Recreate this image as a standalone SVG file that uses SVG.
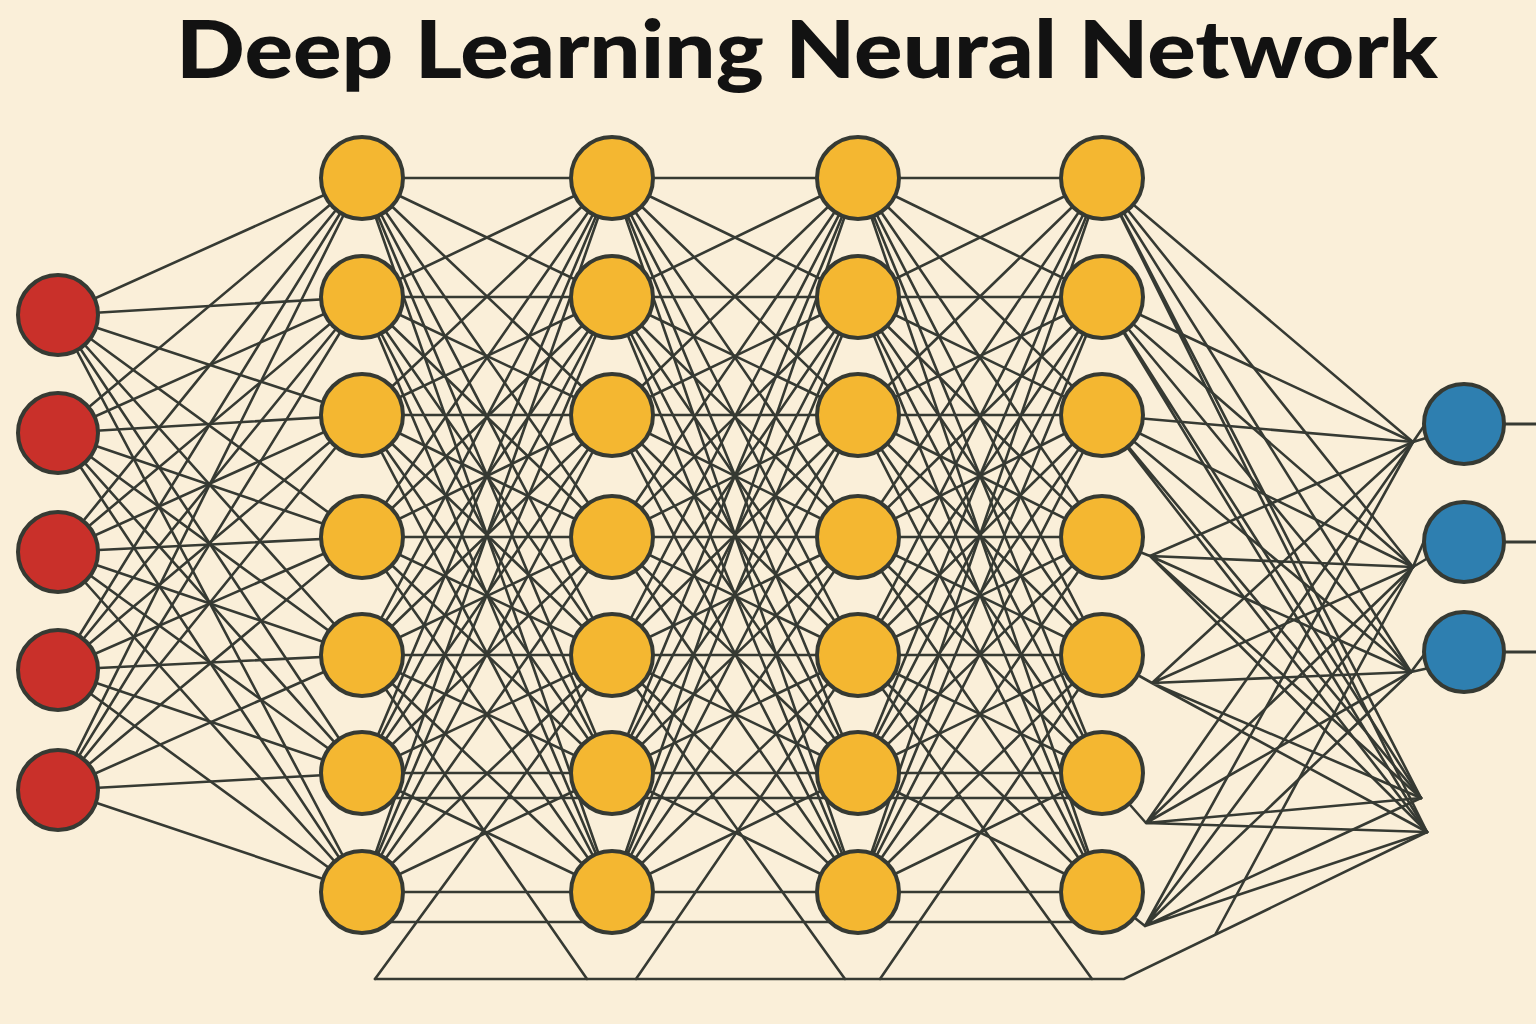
<svg xmlns="http://www.w3.org/2000/svg" width="1536" height="1024" viewBox="0 0 1536 1024">
<style>
.bg{fill:#FAEFD9}
.title{font-family:"Lato","Liberation Sans",sans-serif;font-weight:900;font-size:80px;fill:#121212}
.c path{fill:none;stroke:#363A33;stroke-width:2.6;stroke-linecap:round}
.n circle{stroke:#363A33;stroke-width:4}
.in{fill:#C9302A}
.hid{fill:#F4B731}
.out{fill:#2E7FB0}
.o{stroke:#363A33;stroke-width:3}
</style>
<rect class="bg" x="0" y="0" width="1536" height="1024"/>
<text class="title" x="807" y="78" text-anchor="middle" textLength="1262" lengthAdjust="spacingAndGlyphs">Deep Learning Neural Network</text>
<g id="connectors" class="c">
<path d="M58 315L362 178M58 315L362 297M58 315L362 415M58 315L362 537M58 315L362 655M58 315L362 773M58 315L362 892"/>
<path d="M58 433L362 178M58 433L362 297M58 433L362 415M58 433L362 537M58 433L362 655M58 433L362 773M58 433L362 892"/>
<path d="M58 552L362 178M58 552L362 297M58 552L362 415M58 552L362 537M58 552L362 655M58 552L362 773M58 552L362 892"/>
<path d="M58 670L362 178M58 670L362 297M58 670L362 415M58 670L362 537M58 670L362 655M58 670L362 773M58 670L362 892"/>
<path d="M58 790L362 178M58 790L362 297M58 790L362 415M58 790L362 537M58 790L362 655M58 790L362 773M58 790L362 892"/>
<path d="M362 178L612 178M362 178L612 297M362 178L612 415M362 178L612 537M362 178L612 655M362 178L612 773M362 178L612 892"/>
<path d="M362 297L612 178M362 297L612 297M362 297L612 415M362 297L612 537M362 297L612 655M362 297L612 773M362 297L612 892"/>
<path d="M362 415L612 178M362 415L612 297M362 415L612 415M362 415L612 537M362 415L612 655M362 415L612 773M362 415L612 892"/>
<path d="M362 537L612 178M362 537L612 297M362 537L612 415M362 537L612 537M362 537L612 655M362 537L612 773M362 537L612 892"/>
<path d="M362 655L612 178M362 655L612 297M362 655L612 415M362 655L612 537M362 655L612 655M362 655L612 773M362 655L612 892"/>
<path d="M362 773L612 178M362 773L612 297M362 773L612 415M362 773L612 537M362 773L612 655M362 773L612 773M362 773L612 892"/>
<path d="M362 892L612 178M362 892L612 297M362 892L612 415M362 892L612 537M362 892L612 655M362 892L612 773M362 892L612 892"/>
<path d="M612 178L858 178M612 178L858 297M612 178L858 415M612 178L858 537M612 178L858 655M612 178L858 773M612 178L858 892"/>
<path d="M612 297L858 178M612 297L858 297M612 297L858 415M612 297L858 537M612 297L858 655M612 297L858 773M612 297L858 892"/>
<path d="M612 415L858 178M612 415L858 297M612 415L858 415M612 415L858 537M612 415L858 655M612 415L858 773M612 415L858 892"/>
<path d="M612 537L858 178M612 537L858 297M612 537L858 415M612 537L858 537M612 537L858 655M612 537L858 773M612 537L858 892"/>
<path d="M612 655L858 178M612 655L858 297M612 655L858 415M612 655L858 537M612 655L858 655M612 655L858 773M612 655L858 892"/>
<path d="M612 773L858 178M612 773L858 297M612 773L858 415M612 773L858 537M612 773L858 655M612 773L858 773M612 773L858 892"/>
<path d="M612 892L858 178M612 892L858 297M612 892L858 415M612 892L858 537M612 892L858 655M612 892L858 773M612 892L858 892"/>
<path d="M858 178L1102 178M858 178L1102 297M858 178L1102 415M858 178L1102 537M858 178L1102 655M858 178L1102 773M858 178L1102 892"/>
<path d="M858 297L1102 178M858 297L1102 297M858 297L1102 415M858 297L1102 537M858 297L1102 655M858 297L1102 773M858 297L1102 892"/>
<path d="M858 415L1102 178M858 415L1102 297M858 415L1102 415M858 415L1102 537M858 415L1102 655M858 415L1102 773M858 415L1102 892"/>
<path d="M858 537L1102 178M858 537L1102 297M858 537L1102 415M858 537L1102 537M858 537L1102 655M858 537L1102 773M858 537L1102 892"/>
<path d="M858 655L1102 178M858 655L1102 297M858 655L1102 415M858 655L1102 537M858 655L1102 655M858 655L1102 773M858 655L1102 892"/>
<path d="M858 773L1102 178M858 773L1102 297M858 773L1102 415M858 773L1102 537M858 773L1102 655M858 773L1102 773M858 773L1102 892"/>
<path d="M858 892L1102 178M858 892L1102 297M858 892L1102 415M858 892L1102 537M858 892L1102 655M858 892L1102 773M858 892L1102 892"/>
<path d="M1102 178L1413 442M1102 178L1413 567M1102 178L1411 672M1102 178L1421 798M1102 178L1427 832"/>
<path d="M1102 297L1413 442M1102 297L1413 567M1102 297L1411 672M1102 297L1421 798M1102 297L1427 832"/>
<path d="M1102 415L1413 442M1102 415L1413 567M1102 415L1411 672M1102 415L1421 798M1102 415L1427 832"/>
<path d="M1102 537L1150 556M1150 556L1413 442M1150 556L1413 567M1150 556L1411 672M1150 556L1421 798M1150 556L1427 832"/>
<path d="M1102 655L1152 683M1152 683L1413 442M1152 683L1413 567M1152 683L1411 672M1152 683L1421 798M1152 683L1427 832"/>
<path d="M1102 773L1146 823M1146 823L1413 442M1146 823L1413 567M1146 823L1411 672M1146 823L1421 798M1146 823L1427 832"/>
<path d="M1102 892L1145 926M1145 926L1413 442M1145 926L1413 567M1145 926L1411 672M1145 926L1421 798M1145 926L1427 832"/>
<path d="M1413 442L1426 423M1413 442L1426 438M1413 567L1424 541M1413 567L1428 558M1411 672L1426 652M1411 672L1429 668"/>
<path d="M362 798L1102 798M362 922L1102 922"/>
<path d="M375 979L1124 979L1427 832M1215 935L1413 567"/>
<path d="M375 979L612 655M587 979L362 655M636 979L858 655M845 979L612 655M880 979L1102 655M1092 979L858 655"/>
</g>
<g class="o">
<path d="M1500 424H1536M1500 542H1536M1500 652H1536"/>
</g>
<g class="n">
<g id="in1"><circle class="in" cx="58" cy="315" r="40"/></g>
<g id="in2"><circle class="in" cx="58" cy="433" r="40"/></g>
<g id="in3"><circle class="in" cx="58" cy="552" r="40"/></g>
<g id="in4"><circle class="in" cx="58" cy="670" r="40"/></g>
<g id="in5"><circle class="in" cx="58" cy="790" r="40"/></g>
<g id="h1n1"><circle class="hid" cx="362" cy="178" r="41"/></g>
<g id="h1n2"><circle class="hid" cx="362" cy="297" r="41"/></g>
<g id="h1n3"><circle class="hid" cx="362" cy="415" r="41"/></g>
<g id="h1n4"><circle class="hid" cx="362" cy="537" r="41"/></g>
<g id="h1n5"><circle class="hid" cx="362" cy="655" r="41"/></g>
<g id="h1n6"><circle class="hid" cx="362" cy="773" r="41"/></g>
<g id="h1n7"><circle class="hid" cx="362" cy="892" r="41"/></g>
<g id="h2n1"><circle class="hid" cx="612" cy="178" r="41"/></g>
<g id="h2n2"><circle class="hid" cx="612" cy="297" r="41"/></g>
<g id="h2n3"><circle class="hid" cx="612" cy="415" r="41"/></g>
<g id="h2n4"><circle class="hid" cx="612" cy="537" r="41"/></g>
<g id="h2n5"><circle class="hid" cx="612" cy="655" r="41"/></g>
<g id="h2n6"><circle class="hid" cx="612" cy="773" r="41"/></g>
<g id="h2n7"><circle class="hid" cx="612" cy="892" r="41"/></g>
<g id="h3n1"><circle class="hid" cx="858" cy="178" r="41"/></g>
<g id="h3n2"><circle class="hid" cx="858" cy="297" r="41"/></g>
<g id="h3n3"><circle class="hid" cx="858" cy="415" r="41"/></g>
<g id="h3n4"><circle class="hid" cx="858" cy="537" r="41"/></g>
<g id="h3n5"><circle class="hid" cx="858" cy="655" r="41"/></g>
<g id="h3n6"><circle class="hid" cx="858" cy="773" r="41"/></g>
<g id="h3n7"><circle class="hid" cx="858" cy="892" r="41"/></g>
<g id="h4n1"><circle class="hid" cx="1102" cy="178" r="41"/></g>
<g id="h4n2"><circle class="hid" cx="1102" cy="297" r="41"/></g>
<g id="h4n3"><circle class="hid" cx="1102" cy="415" r="41"/></g>
<g id="h4n4"><circle class="hid" cx="1102" cy="537" r="41"/></g>
<g id="h4n5"><circle class="hid" cx="1102" cy="655" r="41"/></g>
<g id="h4n6"><circle class="hid" cx="1102" cy="773" r="41"/></g>
<g id="h4n7"><circle class="hid" cx="1102" cy="892" r="41"/></g>
<g id="out1"><circle class="out" cx="1464" cy="424" r="40"/></g>
<g id="out2"><circle class="out" cx="1464" cy="542" r="40"/></g>
<g id="out3"><circle class="out" cx="1464" cy="652" r="40"/></g>
</g>
</svg>
